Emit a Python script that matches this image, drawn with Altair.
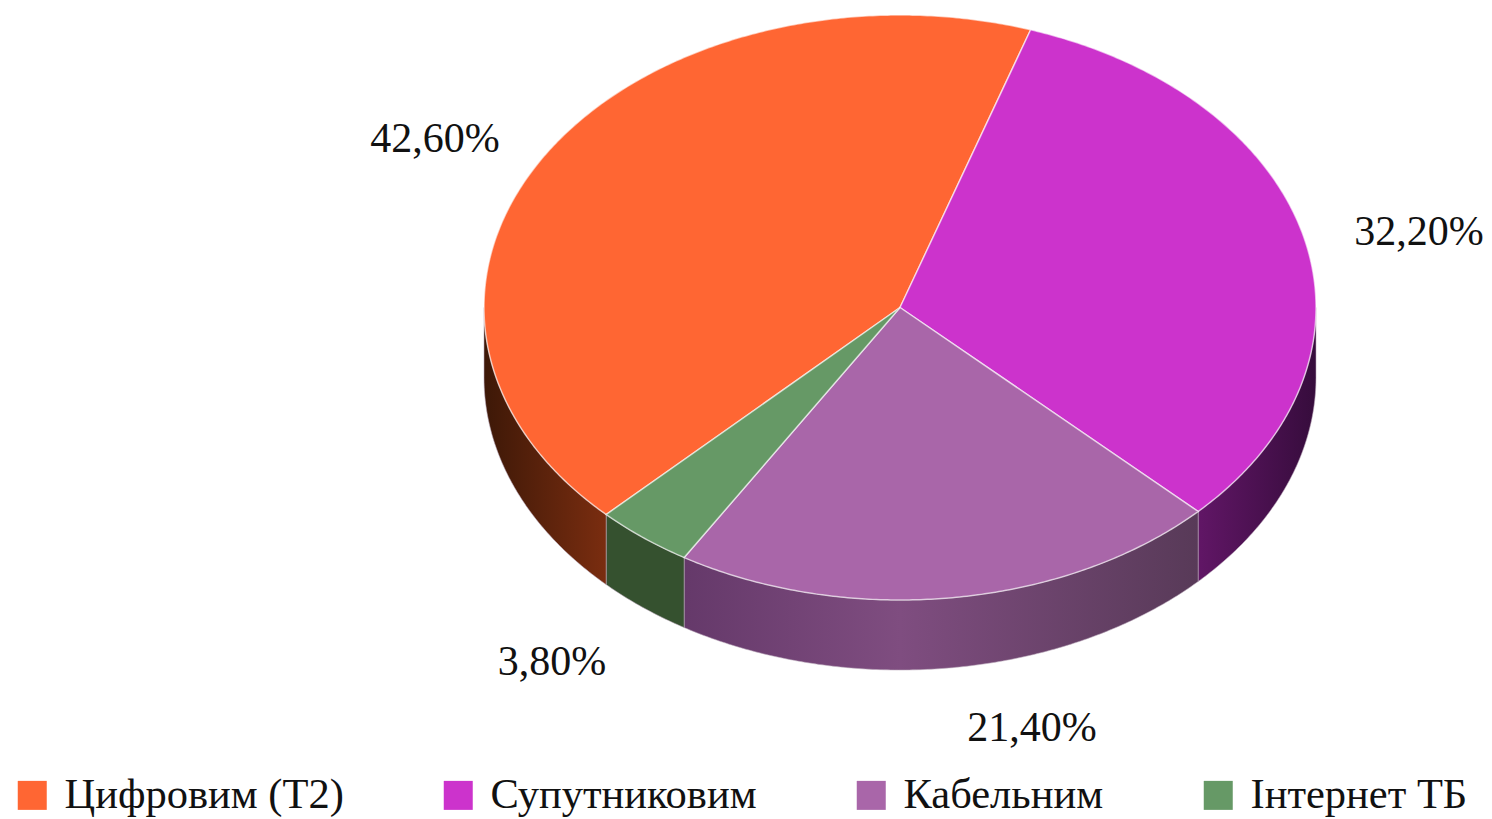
import math
import altair as alt

# --- chart values ---
categories = ["Цифровим (Т2)", "Супутниковим", "Кабельним", "Інтернет ТБ"]
shares = [42.6, 32.2, 21.4, 3.8]
share_labels = ["42,60%", "32,20%", "21,40%", "3,80%"]

# --- styling and layout ---
top_colors = ["#FF6633", "#CC33CC", "#A966A9", "#669966"]
side_stops = [
    [("#3d1807", 0), ("#7a2d10", 1)],
    [("#611666", 0), ("#360c3c", 1)],
    [("#65396a", 0), ("#7f4d80", 0.42), ("#583a58", 1)],
    [("#35512f", 0), ("#35512f", 1)],
]
label_xy = [(435, 139), (1419, 232), (1032, 728), (552, 662)]
CX, CY, RX, RY, DEPTH = 900, 307.5, 416, 292.5, 70
START = 18.3          # degrees clockwise from the top, where the first series after the orange one begins
OFF = 8               # page margin


def pt(deg, dy=0):
    a = math.radians(deg)
    return [CX + RX * math.sin(a), CY - RY * math.cos(a) + dy]


def arc(a0, a1, dy=0):
    n = max(2, int(abs(a1 - a0) * 2))
    return [pt(a0 + (a1 - a0) * i / n, dy) for i in range(n + 1)]


def feature(name, ring):
    ring = ring + [ring[0]]
    return {"type": "Feature", "properties": {"name": name},
            "geometry": {"type": "Polygon", "coordinates": [ring]}}


# slice angles: purple, cable, internet, then orange, clockwise
order = [1, 2, 3, 0]
angles = {}
cur = START
for i in order:
    sweep = shares[i] / sum(shares) * 360
    angles[i] = (cur, cur + sweep)
    cur += sweep

proj = dict(type="identity", scale=1, translate=[-OFF, -OFF])

layers = []
# visible side walls (lower half of the ellipse only)
for i in order:
    lo = max(angles[i][0], 90)
    hi = min(angles[i][1], 270)
    if hi <= lo:
        continue
    ring = arc(lo, hi) + arc(hi, lo, DEPTH)
    grad_dir = dict(x1=0, x2=1, y1=0, y2=0)
    layers.append(
        alt.Chart(alt.Data(values=[feature(categories[i], ring)]))
        .mark_geoshape(
            fill=alt.Gradient(
                gradient="linear",
                stops=[alt.GradientStop(color=c, offset=o) for c, o in side_stops[i]],
                **grad_dir,
            ),
            stroke="#b9a7b9",
            strokeWidth=0.8,
            strokeOpacity=0.7,
        )
        .project(**proj)
    )

# top face
top_features = []
for i in range(4):
    a0, a1 = angles[i]
    top_features.append(feature(categories[i], [[CX, CY]] + arc(a0, a1)))

layers.append(
    alt.Chart(alt.Data(values=top_features))
    .mark_geoshape(stroke="#ffffff", strokeWidth=1.5, strokeOpacity=0.6)
    .encode(
        color=alt.Color(
            "properties.name:N",
            scale=alt.Scale(domain=categories, range=top_colors),
            sort=categories,
            legend=alt.Legend(
                orient="none",
                legendX=3,
                legendY=766,
                direction="horizontal",
                columns=4,
                gridAlign="each",
                columnPadding=93,
                title=None,
                symbolType="square",
                symbolSize=841,
                symbolStrokeWidth=0,
                symbolOpacity=1,
                labelFont="Liberation Serif",
                labelFontSize=42.5,
                labelColor="#111111",
                labelOffset=11,
                labelLimit=500,
            ),
        )
    )
    .project(**proj)
)

# percentage labels
label_rows = [
    {"label": t, "lon": x, "lat": y} for t, (x, y) in zip(share_labels, label_xy)
]
layers.append(
    alt.Chart(alt.Data(values=label_rows))
    .mark_text(font="Liberation Serif", fontSize=42, color="#111111",
               align="center", baseline="middle")
    .encode(longitude="lon:Q", latitude="lat:Q", text="label:N")
    .project(**proj)
)

chart = (
    alt.layer(*layers)
    .properties(width=1476, height=811, padding=0, background="#ffffff",
                autosize=alt.AutoSizeParams(type="none"))
    .configure_view(stroke=None)
)
chart.save("out.html", embed_options={"renderer": "svg", "actions": False})
